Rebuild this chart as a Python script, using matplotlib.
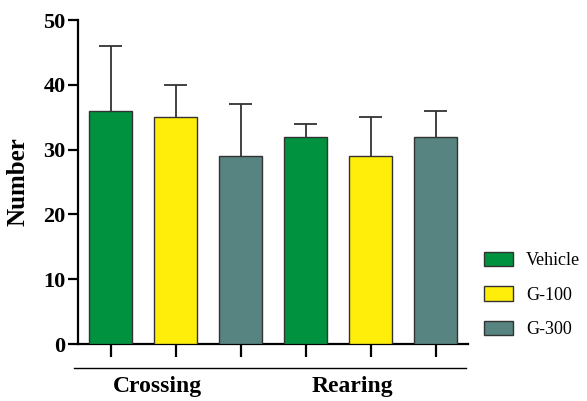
import numpy as np
import matplotlib
matplotlib.use("Agg")
import matplotlib.pyplot as plt
from matplotlib.patches import Patch
from matplotlib.lines import Line2D

plt.rcParams.update({
    "font.family": ["Liberation Serif", "DejaVu Serif"],
    "axes.linewidth": 1.6,
})

groupes = ["Crossing", "Rearing"]
traitements = ["Vehicle", "G-100", "G-300"]
couleurs = ["#00923F", "#FFED0A", "#578480"]

crossing_moy = [36, 35, 29]
crossing_err = [10, 5, 8]
rearing_moy = [32, 29, 32]
rearing_err = [2, 6, 4]

moyennes = np.array(crossing_moy + rearing_moy)
erreurs = np.array(crossing_err + rearing_err)
x = np.arange(len(moyennes))

fig = plt.figure(figsize=(5.87, 4.01), dpi=100)
ax = fig.add_axes([78 / 587, 57 / 401, 390 / 587, 324 / 401])

ax.bar(x, moyennes, width=0.66, color=couleurs * 2, edgecolor="#333333",
       linewidth=1.0, zorder=3)
# barres d'erreur vers le haut seulement (style Prism)
ax.vlines(x, moyennes, moyennes + erreurs, color="#333333", linewidth=1.3, zorder=2)
ax.hlines(moyennes + erreurs, x - 0.17, x + 0.17, color="#333333", linewidth=1.3, zorder=2)

ax.set_xlim(-0.5, 5.5)
ax.set_ylim(0, 50)
ax.set_yticks([0, 10, 20, 30, 40, 50])
ax.set_xticks(x)
ax.set_xticklabels([])
ax.spines["top"].set_visible(False)
ax.spines["right"].set_visible(False)
ax.tick_params(axis="y", length=7, width=1.6, pad=2, labelsize=16)
ax.tick_params(axis="x", length=9, width=1.6)
for lab in ax.get_yticklabels():
    lab.set_fontweight("bold")
ax.set_ylabel("Number", fontsize=18, fontweight="bold", labelpad=10)

# trait sous les deux groupes + libelles
ax.add_line(Line2D([-0.01, 0.995], [-0.074, -0.074], transform=ax.transAxes,
                   color="black", linewidth=1.0, clip_on=False))
for i, g in enumerate(groupes):
    ax.text(i * 3 + 0.72, -0.13, g, transform=ax.get_xaxis_transform(),
            ha="center", va="center", fontsize=17, fontweight="bold")

poignees = [Patch(facecolor=c, edgecolor="#333333", linewidth=1.0) for c in couleurs]
fig.legend(poignees, traitements, loc="center left",
           bbox_to_anchor=(468 / 587, 1 - 295 / 401), frameon=False,
           fontsize=13, handlelength=1.6, handleheight=0.85,
           handletextpad=0.7, labelspacing=0.95)

fig.savefig("out.png", dpi=100)
